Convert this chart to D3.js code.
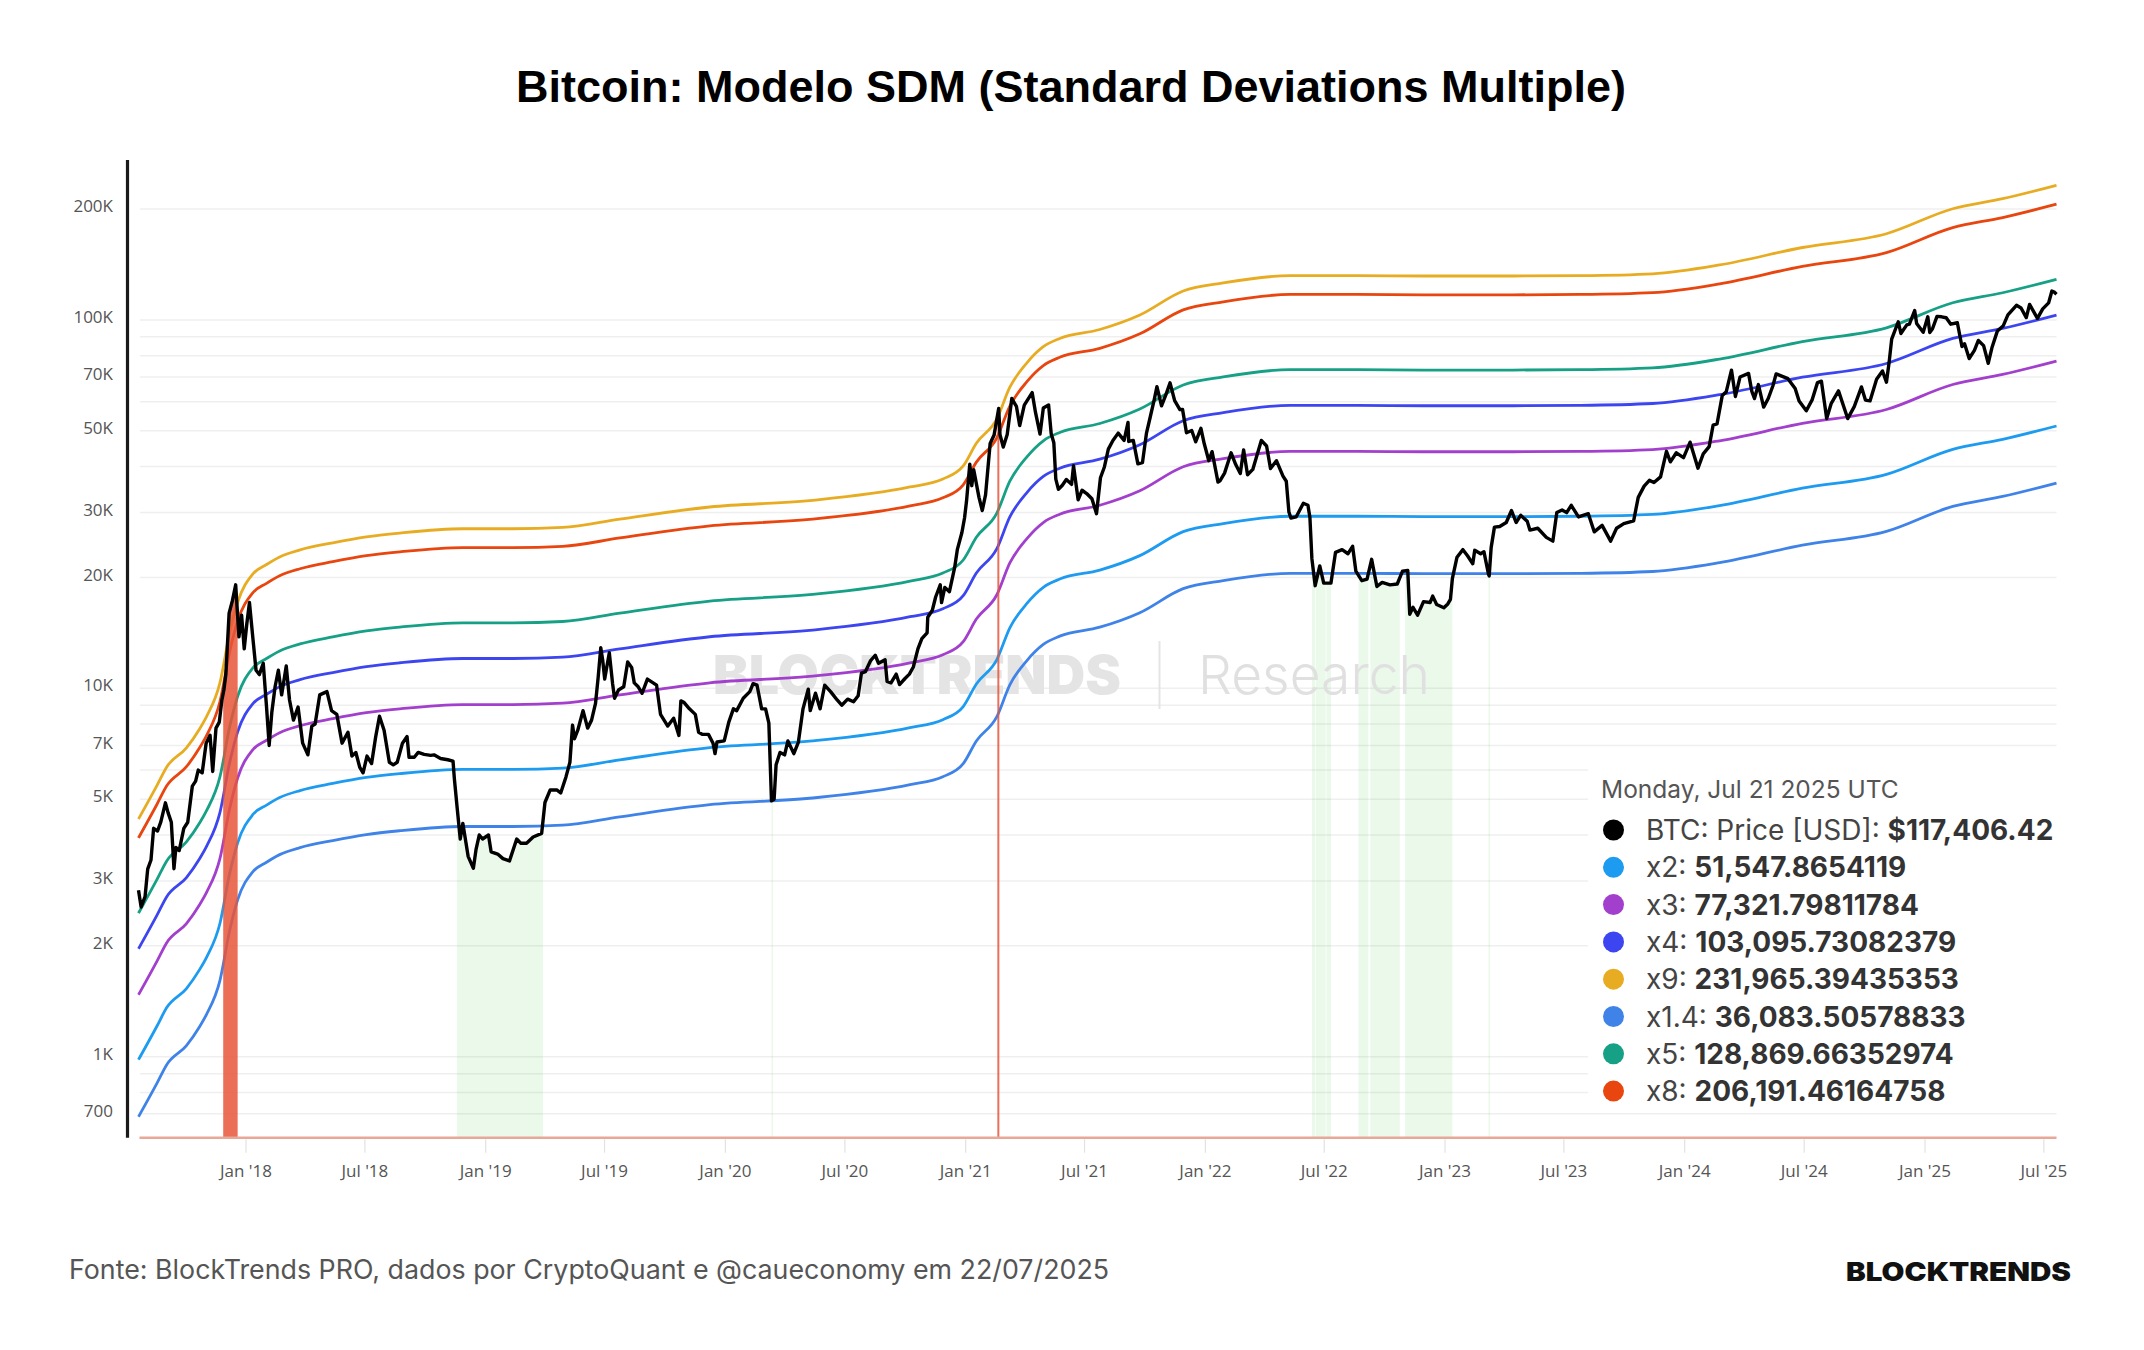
<!DOCTYPE html>
<html>
<head>
<meta charset="utf-8">
<script src="https://cdn.jsdelivr.net/npm/d3@7"></script>
<style>
  html, body { margin: 0; padding: 0; background: #fff; }
  svg { display: block; }
</style>
</head>
<body>
<div id="chart"></div>
<script>
// BTC daily price (roughly weekly points)
const btcPrice = [
  ["2017-07-22", 2830], ["2017-07-26", 2550], ["2017-08-01", 2720], ["2017-08-05", 3230], ["2017-08-10", 3420],
  ["2017-08-14", 4170], ["2017-08-20", 4100], ["2017-08-25", 4340], ["2017-09-01", 4890], ["2017-09-05", 4600],
  ["2017-09-10", 4330], ["2017-09-14", 3240], ["2017-09-17", 3700], ["2017-09-22", 3630], ["2017-09-29", 4170],
  ["2017-10-05", 4330], ["2017-10-12", 5430], ["2017-10-17", 5600], ["2017-10-21", 6000], ["2017-10-27", 5900],
  ["2017-11-02", 7100], ["2017-11-08", 7460], ["2017-11-12", 5950], ["2017-11-17", 7800], ["2017-11-22", 8100],
  ["2017-11-26", 9300], ["2017-11-29", 9900], ["2017-12-02", 10900], ["2017-12-07", 16000], ["2017-12-12", 17300],
  ["2017-12-17", 19100], ["2017-12-22", 13800], ["2017-12-26", 15800], ["2017-12-30", 12800],
  ["2018-01-03", 15000], ["2018-01-07", 17100], ["2018-01-12", 13800], ["2018-01-17", 11200], ["2018-01-22", 10900],
  ["2018-01-28", 11700], ["2018-02-02", 8900], ["2018-02-06", 7000], ["2018-02-10", 8600], ["2018-02-15", 10100],
  ["2018-02-20", 11200], ["2018-02-25", 9600], ["2018-03-04", 11500], ["2018-03-09", 9300], ["2018-03-15", 8200],
  ["2018-03-22", 8900], ["2018-03-29", 7100], ["2018-04-06", 6600], ["2018-04-12", 7900], ["2018-04-17", 8000],
  ["2018-04-24", 9600], ["2018-05-05", 9800], ["2018-05-12", 8700], ["2018-05-20", 8500], ["2018-05-28", 7100],
  ["2018-06-06", 7600], ["2018-06-12", 6550], ["2018-06-18", 6700], ["2018-06-24", 6100], ["2018-06-29", 5900],
  ["2018-07-05", 6550], ["2018-07-12", 6250], ["2018-07-18", 7350], ["2018-07-24", 8400], ["2018-07-31", 7700],
  ["2018-08-08", 6300], ["2018-08-14", 6200], ["2018-08-20", 6300], ["2018-08-28", 7100], ["2018-09-04", 7400],
  ["2018-09-07", 6500], ["2018-09-15", 6500], ["2018-09-21", 6700], ["2018-09-30", 6620], ["2018-10-10", 6580],
  ["2018-10-15", 6600], ["2018-10-25", 6450], ["2018-11-05", 6400], ["2018-11-13", 6350], ["2018-11-15", 5700],
  ["2018-11-19", 4800], ["2018-11-24", 3900], ["2018-11-28", 4300], ["2018-12-06", 3500], ["2018-12-14", 3250],
  ["2018-12-18", 3650], ["2018-12-23", 4000], ["2018-12-28", 3900],
  ["2019-01-06", 4000], ["2019-01-10", 3600], ["2019-01-20", 3550], ["2019-01-28", 3450], ["2019-02-07", 3400],
  ["2019-02-18", 3900], ["2019-02-24", 3800], ["2019-03-05", 3800], ["2019-03-15", 3950], ["2019-03-28", 4040],
  ["2019-04-02", 4900], ["2019-04-10", 5300], ["2019-04-20", 5300], ["2019-04-26", 5200], ["2019-05-04", 5750],
  ["2019-05-10", 6300], ["2019-05-14", 7950], ["2019-05-17", 7300], ["2019-05-22", 7700], ["2019-05-30", 8700],
  ["2019-06-06", 7800], ["2019-06-12", 8200], ["2019-06-18", 9100], ["2019-06-22", 10700], ["2019-06-26", 12900],
  ["2019-06-29", 11900], ["2019-07-02", 10600], ["2019-07-09", 12500], ["2019-07-14", 10300], ["2019-07-17", 9400],
  ["2019-07-23", 9900], ["2019-07-31", 10100], ["2019-08-06", 11800], ["2019-08-12", 11400], ["2019-08-16", 10350],
  ["2019-08-22", 10100], ["2019-08-28", 9700], ["2019-09-05", 10600], ["2019-09-12", 10400], ["2019-09-19", 10200],
  ["2019-09-25", 8500], ["2019-10-06", 7900], ["2019-10-15", 8300], ["2019-10-23", 7450], ["2019-10-26", 9250],
  ["2019-10-31", 9150], ["2019-11-08", 8800], ["2019-11-17", 8500], ["2019-11-22", 7600], ["2019-11-28", 7500],
  ["2019-12-07", 7500], ["2019-12-14", 7100], ["2019-12-17", 6650], ["2019-12-20", 7150], ["2019-12-31", 7200],
  ["2020-01-07", 8100], ["2020-01-14", 8800], ["2020-01-19", 8700], ["2020-01-29", 9400], ["2020-02-08", 9800],
  ["2020-02-13", 10300], ["2020-02-19", 10200], ["2020-02-26", 8800], ["2020-03-03", 8800], ["2020-03-08", 8050],
  ["2020-03-12", 4950], ["2020-03-16", 5000], ["2020-03-19", 6200], ["2020-03-25", 6700], ["2020-04-01", 6600],
  ["2020-04-06", 7200], ["2020-04-15", 6650], ["2020-04-22", 7150], ["2020-04-29", 8800], ["2020-05-07", 9950],
  ["2020-05-10", 8700], ["2020-05-18", 9700], ["2020-05-25", 8800], ["2020-06-01", 10200], ["2020-06-10", 9800],
  ["2020-06-20", 9300], ["2020-06-27", 9000], ["2020-07-06", 9350], ["2020-07-15", 9200], ["2020-07-22", 9550],
  ["2020-07-27", 11000], ["2020-08-02", 11100], ["2020-08-10", 11900], ["2020-08-17", 12300], ["2020-08-22", 11700],
  ["2020-09-01", 11950], ["2020-09-04", 10450], ["2020-09-10", 10350], ["2020-09-18", 10930], ["2020-09-23", 10240],
  ["2020-10-01", 10620], ["2020-10-08", 10930], ["2020-10-14", 11430], ["2020-10-21", 12800], ["2020-10-27", 13650],
  ["2020-11-04", 14150], ["2020-11-05", 15600], ["2020-11-12", 16300], ["2020-11-17", 17700], ["2020-11-24", 19100],
  ["2020-11-26", 17100], ["2020-12-01", 18800], ["2020-12-08", 18300], ["2020-12-16", 21300], ["2020-12-20", 23800],
  ["2020-12-27", 26500], ["2020-12-31", 29000],
  ["2021-01-03", 32200], ["2021-01-08", 40600], ["2021-01-11", 35500], ["2021-01-14", 39200], ["2021-01-22", 33000],
  ["2021-01-27", 30400], ["2021-02-01", 33500], ["2021-02-08", 46200], ["2021-02-14", 48700], ["2021-02-21", 57500],
  ["2021-02-23", 48800], ["2021-02-28", 45200], ["2021-03-06", 48900], ["2021-03-13", 61200], ["2021-03-20", 58300],
  ["2021-03-25", 51700], ["2021-04-01", 58700], ["2021-04-13", 63500], ["2021-04-18", 56200], ["2021-04-25", 49000],
  ["2021-04-30", 57700], ["2021-05-08", 58800], ["2021-05-12", 49100], ["2021-05-16", 46400], ["2021-05-19", 37000],
  ["2021-05-23", 34700], ["2021-05-29", 35600], ["2021-06-04", 36900], ["2021-06-12", 35800], ["2021-06-15", 40200],
  ["2021-06-22", 32500], ["2021-06-28", 34500], ["2021-07-05", 33800], ["2021-07-13", 32700], ["2021-07-20", 29800],
  ["2021-07-26", 37300], ["2021-08-01", 39900], ["2021-08-07", 44600], ["2021-08-14", 47100], ["2021-08-22", 49300],
  ["2021-08-31", 47100], ["2021-09-06", 52700], ["2021-09-07", 46800], ["2021-09-14", 47100], ["2021-09-21", 40700],
  ["2021-09-28", 41000], ["2021-10-04", 49200], ["2021-10-10", 54700], ["2021-10-16", 60900], ["2021-10-20", 65900],
  ["2021-10-27", 58500], ["2021-11-03", 62900], ["2021-11-09", 67500], ["2021-11-16", 60400], ["2021-11-24", 57100],
  ["2021-11-28", 57200], ["2021-12-04", 49400], ["2021-12-12", 50100], ["2021-12-18", 46700], ["2021-12-26", 50800],
  ["2021-12-31", 46200],
  ["2022-01-07", 41500], ["2022-01-12", 43900], ["2022-01-21", 36300], ["2022-01-24", 36600], ["2022-01-31", 38400],
  ["2022-02-10", 43600], ["2022-02-17", 40500], ["2022-02-24", 38300], ["2022-03-01", 44400], ["2022-03-07", 38000],
  ["2022-03-15", 39300], ["2022-03-28", 47100], ["2022-04-05", 45500], ["2022-04-11", 39500], ["2022-04-20", 41500],
  ["2022-04-30", 37700], ["2022-05-05", 36500], ["2022-05-09", 30100], ["2022-05-12", 29000], ["2022-05-20", 29200],
  ["2022-05-31", 31800], ["2022-06-07", 31400], ["2022-06-10", 29100], ["2022-06-13", 22500], ["2022-06-18", 19000],
  ["2022-06-25", 21500], ["2022-07-01", 19300], ["2022-07-12", 19300], ["2022-07-19", 23400], ["2022-07-29", 23800],
  ["2022-08-07", 23200], ["2022-08-14", 24300], ["2022-08-19", 20800], ["2022-08-28", 19600], ["2022-09-05", 19800],
  ["2022-09-12", 22400], ["2022-09-20", 18900], ["2022-09-28", 19400], ["2022-10-10", 19100], ["2022-10-21", 19200],
  ["2022-10-29", 20800], ["2022-11-06", 20900], ["2022-11-09", 15900], ["2022-11-14", 16600], ["2022-11-21", 15800],
  ["2022-11-30", 17200], ["2022-12-10", 17100], ["2022-12-14", 17800], ["2022-12-20", 16900], ["2022-12-31", 16550],
  ["2023-01-06", 16950], ["2023-01-10", 17450], ["2023-01-13", 19900], ["2023-01-20", 22700], ["2023-01-29", 23800],
  ["2023-02-05", 22900], ["2023-02-13", 21800], ["2023-02-16", 23700], ["2023-02-25", 23200], ["2023-03-02", 23500],
  ["2023-03-09", 20400], ["2023-03-10", 20200], ["2023-03-13", 24100], ["2023-03-18", 27400], ["2023-03-26", 27500],
  ["2023-04-05", 28200], ["2023-04-13", 30400], ["2023-04-20", 28200], ["2023-04-27", 29500], ["2023-05-07", 28400],
  ["2023-05-11", 26900], ["2023-05-23", 27200], ["2023-06-05", 25700], ["2023-06-15", 25100], ["2023-06-21", 30000],
  ["2023-06-29", 30500], ["2023-07-06", 30000], ["2023-07-13", 31400], ["2023-07-24", 29200], ["2023-08-08", 29800],
  ["2023-08-17", 26600], ["2023-08-29", 27700], ["2023-09-11", 25100], ["2023-09-20", 27200], ["2023-10-01", 28000],
  ["2023-10-16", 28500], ["2023-10-23", 33000], ["2023-11-01", 35400], ["2023-11-09", 36700], ["2023-11-16", 36200],
  ["2023-11-26", 37500], ["2023-12-05", 44000], ["2023-12-11", 41200], ["2023-12-20", 43600], ["2023-12-31", 42300],
  ["2024-01-10", 46600], ["2024-01-22", 39600], ["2024-01-30", 43300], ["2024-02-08", 45300], ["2024-02-14", 51800],
  ["2024-02-20", 52200], ["2024-02-28", 62400], ["2024-03-05", 63800], ["2024-03-13", 73100], ["2024-03-19", 62000],
  ["2024-03-26", 70000], ["2024-04-08", 71600], ["2024-04-13", 64000], ["2024-04-17", 61200], ["2024-04-23", 66800],
  ["2024-05-01", 58000], ["2024-05-08", 61200], ["2024-05-15", 66200], ["2024-05-20", 71400], ["2024-06-07", 69300],
  ["2024-06-18", 65200], ["2024-06-24", 60300], ["2024-07-05", 56700], ["2024-07-14", 60800], ["2024-07-22", 67600],
  ["2024-07-28", 68200], ["2024-08-05", 54000], ["2024-08-12", 59400], ["2024-08-23", 64200], ["2024-09-06", 54000],
  ["2024-09-16", 58200], ["2024-09-27", 65800], ["2024-10-03", 60600], ["2024-10-10", 60300], ["2024-10-20", 69000],
  ["2024-10-29", 72700], ["2024-11-04", 67800], ["2024-11-08", 76500], ["2024-11-12", 88700], ["2024-11-22", 98900],
  ["2024-11-26", 91900], ["2024-12-05", 97000], ["2024-12-09", 97400], ["2024-12-17", 106100], ["2024-12-20", 97800],
  ["2024-12-30", 92600],
  ["2025-01-06", 102000], ["2025-01-09", 92500], ["2025-01-13", 94500], ["2025-01-20", 102300], ["2025-01-27", 102000],
  ["2025-02-03", 101400], ["2025-02-10", 97400], ["2025-02-20", 98300], ["2025-02-27", 84700], ["2025-03-03", 86200],
  ["2025-03-10", 78600], ["2025-03-18", 82700], ["2025-03-24", 88000], ["2025-04-01", 85200], ["2025-04-08", 76300],
  ["2025-04-14", 84500], ["2025-04-22", 93400], ["2025-05-01", 96500], ["2025-05-08", 103200], ["2025-05-21", 109600],
  ["2025-05-28", 107800], ["2025-06-05", 101500], ["2025-06-10", 110200], ["2025-06-22", 101000], ["2025-06-30", 107200],
  ["2025-07-09", 111300], ["2025-07-14", 119800], ["2025-07-17", 119300], ["2025-07-21", 117406.42]
];

// SDM base line (x1); every band in the legend is this base times its multiple
const sdmBase = [
  ["2017-07-22", 491], ["2017-08-19", 605], ["2017-09-03", 680], ["2017-10-03", 766], ["2017-10-23", 862],
  ["2017-11-03", 934], ["2017-11-23", 1150], ["2017-12-08", 1578], ["2017-12-20", 1904], ["2018-01-12", 2270],
  ["2018-02-02", 2410], ["2018-02-22", 2527], ["2018-03-25", 2640], ["2018-05-14", 2760], ["2018-07-04", 2865],
  ["2018-08-24", 2934], ["2018-11-28", 3013], ["2019-02-12", 3013], ["2019-04-29", 3038], ["2019-07-25", 3200],
  ["2019-12-09", 3452], ["2020-05-09", 3594], ["2020-10-09", 3912], ["2020-11-28", 4112], ["2020-12-29", 4462],
  ["2021-01-18", 5141], ["2021-02-18", 5975], ["2021-03-10", 7300], ["2021-04-05", 8500], ["2021-04-30", 9400],
  ["2021-05-25", 9900], ["2021-07-25", 10471], ["2021-09-24", 11463], ["2021-11-29", 13319], ["2022-01-29", 14005],
  ["2022-05-11", 14662], ["2022-08-21", 14662], ["2022-11-30", 14626], ["2023-04-07", 14626], ["2023-07-27", 14662],
  ["2023-11-14", 14831], ["2024-02-24", 15668], ["2024-06-29", 17478], ["2024-11-04", 19048], ["2025-02-13", 22271],
  ["2025-04-30", 23711], ["2025-07-21", 25773.93]
];

// Legend order
const bandNames = ["x2", "x3", "x4", "x9", "x1.4", "x5", "x8"];
const bandMultiples = [2, 3, 4, 9, 1.4, 5, 8];
const bandValueLabels = ["51,547.8654119", "77,321.79811784", "103,095.73082379", "231,965.39435353",
  "36,083.50578833", "128,869.66352974", "206,191.46164758"];
const bandColors = ["#1d9bf0", "#a23fcc", "#3c45ef", "#e8ac22", "#3f83e8", "#16a085", "#e8450f"];

// Shaded zones (price below x1.4 -> green, above x9 -> red)
const greenZones = [
  ["2018-11-19", "2019-03-30"], ["2020-03-12", "2020-03-13"], ["2022-06-13", "2022-06-18"],
  ["2022-06-19", "2022-07-04"], ["2022-07-05", "2022-07-12"], ["2022-08-23", "2022-09-07"],
  ["2022-09-10", "2022-10-25"], ["2022-11-02", "2023-01-13"], ["2023-03-09", "2023-03-10"]
];
const redZones = [["2017-11-28", "2017-12-20"], ["2021-02-19", "2021-02-22"]];

const yTickValues = [700, 1000, 2000, 3000, 5000, 7000, 10000, 20000, 30000, 50000, 70000, 100000, 200000];
const yTickLabels = ["700", "1K", "2K", "3K", "5K", "7K", "10K", "20K", "30K", "50K", "70K", "100K", "200K"];
const yGridValues = [700, 800, 900, 1000, 2000, 3000, 4000, 5000, 6000, 7000, 8000, 9000, 10000,
  20000, 30000, 40000, 50000, 60000, 70000, 80000, 90000, 100000, 200000];
const xTickDates = ["2018-01-01", "2018-07-01", "2019-01-01", "2019-07-01", "2020-01-01", "2020-07-01",
  "2021-01-01", "2021-07-01", "2022-01-01", "2022-07-01", "2023-01-01", "2023-07-01", "2024-01-01",
  "2024-07-01", "2025-01-01", "2025-07-01"];

const width = 2144;
const height = 1350;
const plotLeft = 138.5, plotRight = 2056.5, plotTop = 160, plotBottom = 1137.7;

const parseDate = d3.utcParse("%Y-%m-%d");
const price = btcPrice.map(([d, v]) => ({ date: parseDate(d), value: v }));
const base = sdmBase.map(([d, v]) => ({ date: parseDate(d), value: v }));

const svg = d3.create("svg")
  .attr("width", width)
  .attr("height", height)
  .attr("viewBox", [0, 0, width, height]);
document.getElementById("chart").append(svg.node());

// Scales
const x = d3.scaleUtc()
  .domain([parseDate("2017-07-22"), parseDate("2025-07-21")])
  .range([plotLeft, plotRight]);
const y = d3.scaleLog()
  .domain([603, 271800])
  .range([plotBottom, plotTop]);

// Title
svg.append("text")
  .attr("x", 1071)
  .attr("y", 102)
  .attr("text-anchor", "middle")
  .attr("font-family", "'Liberation Sans', Arial, sans-serif")
  .attr("font-weight", 700)
  .attr("font-size", 45)
  .attr("fill", "#000")
  .text("Bitcoin: Modelo SDM (Standard Deviations Multiple)");

// Grid lines
svg.append("g")
  .selectAll("line")
  .data(yGridValues)
  .join("line")
  .attr("x1", 140)
  .attr("x2", plotRight)
  .attr("y1", d => y(d))
  .attr("y2", d => y(d))
  .attr("stroke", "#efefef")
  .attr("stroke-width", 1.5);

// Zone clip paths
const defs = svg.append("defs");
function zoneClip(id, zones) {
  defs.append("clipPath").attr("id", id)
    .selectAll("rect")
    .data(zones)
    .join("rect")
    .attr("x", d => x(parseDate(d[0])))
    .attr("width", d => Math.max(1.5, x(parseDate(d[1])) - x(parseDate(d[0]))))
    .attr("y", plotTop)
    .attr("height", plotBottom - plotTop);
}
zoneClip("greenClip", greenZones);
zoneClip("redClip", redZones);

const areaUnderPrice = d3.area()
  .x(d => x(d.date))
  .y0(plotBottom)
  .y1(d => y(d.value));

svg.append("path")
  .datum(price)
  .attr("clip-path", "url(#greenClip)")
  .attr("d", areaUnderPrice)
  .attr("fill", "#2fc42f")
  .attr("fill-opacity", 0.1);

// Watermark
const wm = svg.append("g");
wm.append("text")
  .attr("x", 713).attr("y", 694)
  .attr("font-family", "Inter, sans-serif")
  .attr("font-weight", 900)
  .attr("font-size", 53)
  .attr("textLength", 408)
  .attr("lengthAdjust", "spacingAndGlyphs")
  .attr("fill", "#e4e4e4")
  .text("BLOCKTRENDS");
wm.append("line")
  .attr("x1", 1159.5).attr("x2", 1159.5)
  .attr("y1", 641).attr("y2", 709)
  .attr("stroke", "#e4e4e4").attr("stroke-width", 2);
wm.append("text")
  .attr("x", 1198).attr("y", 694)
  .attr("font-family", "Inter, sans-serif")
  .attr("font-weight", 300)
  .attr("font-size", 54)
  .attr("textLength", 232)
  .attr("lengthAdjust", "spacingAndGlyphs")
  .attr("fill", "#e0e0e0")
  .text("Research");

// Band lines
const bandLine = k => d3.line()
  .x(d => x(d.date))
  .y(d => y(d.value * k))
  .curve(d3.curveMonotoneX);

svg.append("g")
  .selectAll("path")
  .data(bandMultiples)
  .join("path")
  .attr("d", k => bandLine(k)(base))
  .attr("fill", "none")
  .attr("stroke", (k, i) => bandColors[i])
  .attr("stroke-width", 2.8)
  .attr("stroke-linejoin", "round");

// Red zones on top of bands
svg.append("path")
  .datum(price)
  .attr("clip-path", "url(#redClip)")
  .attr("d", areaUnderPrice)
  .attr("fill", "#e8553a")
  .attr("fill-opacity", 0.85);

// Price line
svg.append("path")
  .datum(price)
  .attr("d", d3.line().x(d => x(d.date)).y(d => y(d.value)))
  .attr("fill", "none")
  .attr("stroke", "#000")
  .attr("stroke-width", 3.4)
  .attr("stroke-linejoin", "round");

// X axis
const gx = svg.append("g")
  .attr("transform", `translate(0,${plotBottom})`)
  .call(d3.axisBottom(x)
    .tickValues(xTickDates.map(parseDate))
    .tickFormat(d3.utcFormat("%b '%y"))
    .tickSize(15)
    .tickPadding(12));
gx.select(".domain").remove();
gx.selectAll(".tick line").attr("stroke", "#e2e2e2").attr("stroke-width", 1.2).attr("y1", 1.5);
gx.selectAll(".tick text")
  .attr("font-family", "'Open Sans', sans-serif")
  .attr("font-size", 17)
  .attr("fill", "#555");
svg.append("line")
  .attr("x1", 139.5).attr("x2", plotRight)
  .attr("y1", plotBottom).attr("y2", plotBottom)
  .attr("stroke", "#e8a898")
  .attr("stroke-width", 2.5);

// Y axis
const gy = svg.append("g")
  .attr("transform", "translate(127.5,0)")
  .call(d3.axisLeft(y)
    .tickValues(yTickValues)
    .tickFormat((d, i) => yTickLabels[i])
    .tickSize(0)
    .tickPadding(14.5));
gy.select(".domain").remove();
gy.selectAll(".tick text")
  .attr("font-family", "'Open Sans', sans-serif")
  .attr("font-size", 17)
  .attr("fill", "#555")
  .attr("dy", "0.15em");
svg.append("line")
  .attr("x1", 127.5).attr("x2", 127.5)
  .attr("y1", plotTop).attr("y2", plotBottom)
  .attr("stroke", "#1a1a1a")
  .attr("stroke-width", 3.2);

// Legend
const legend = svg.append("g");
legend.append("rect")
  .attr("x", 1588).attr("y", 757)
  .attr("width", 474).attr("height", 346)
  .attr("fill", "#fff");
legend.append("text")
  .attr("x", 1601).attr("y", 798)
  .attr("font-family", "Inter, sans-serif")
  .attr("font-size", 24.5)
  .attr("fill", "#555")
  .text("Monday, Jul 21 2025 UTC");

const legendRows = [{ name: "BTC: Price [USD]", value: "$117,406.42", color: "#000" }]
  .concat(bandNames.map((n, i) => ({ name: n, value: bandValueLabels[i], color: bandColors[i] })));

const row = legend.selectAll("g.row")
  .data(legendRows)
  .join("g")
  .attr("class", "row")
  .attr("transform", (d, i) => `translate(0,${830 + i * 37.3})`);
row.append("circle")
  .attr("cx", 1613.5).attr("cy", 0).attr("r", 10.5)
  .attr("fill", d => d.color);
const rowText = row.append("text")
  .attr("x", 1646).attr("y", 10)
  .attr("font-family", "Inter, sans-serif")
  .attr("font-size", 28);
rowText.append("tspan").attr("fill", "#444").text(d => d.name + ": ");
rowText.append("tspan").attr("fill", "#333").attr("font-weight", 700).text(d => d.value);

// Footer
svg.append("text")
  .attr("x", 69).attr("y", 1279)
  .attr("font-family", "Inter, sans-serif")
  .attr("font-size", 26.8)
  .attr("fill", "#555")
  .text("Fonte: BlockTrends PRO, dados por CryptoQuant e @caueconomy em 22/07/2025");
svg.append("text")
  .attr("x", 1846).attr("y", 1280.5)
  .attr("font-family", "Inter, sans-serif")
  .attr("font-weight", 900)
  .attr("font-size", 26)
  .attr("textLength", 225)
  .attr("lengthAdjust", "spacingAndGlyphs")
  .attr("fill", "#111")
  .text("BLOCKTRENDS");
</script>
</body>
</html>
